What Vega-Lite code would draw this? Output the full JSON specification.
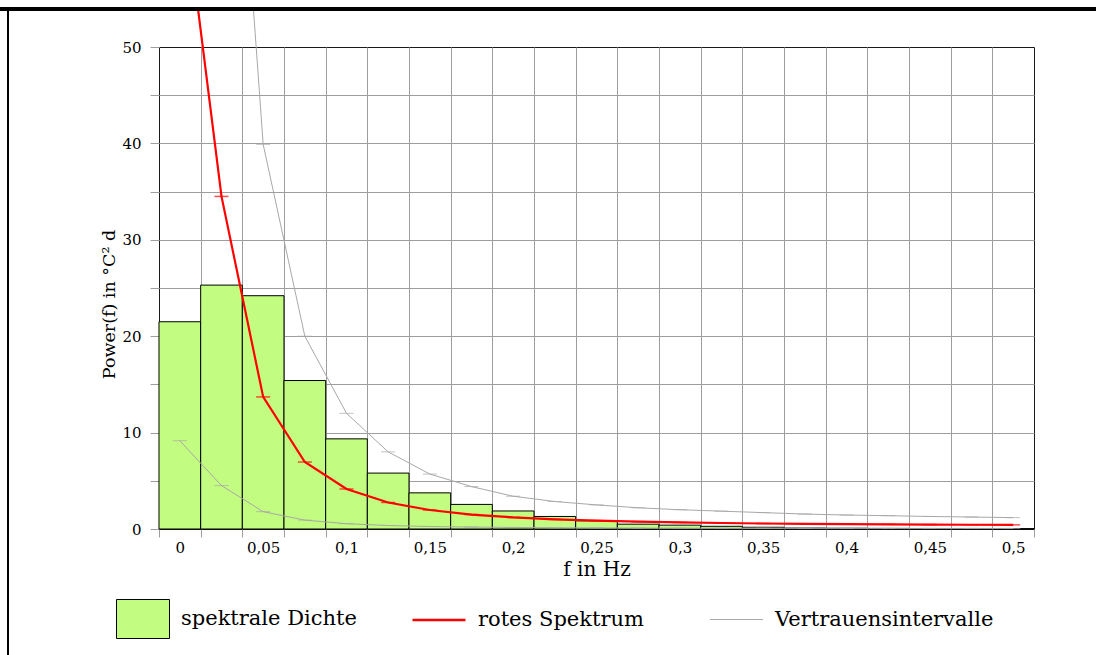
{
  "$schema": "https://vega.github.io/schema/vega-lite/v6.json",
  "width": 875,
  "height": 482,
  "autosize": {"type": "none"},
  "padding": {"left": 159, "top": 47, "right": 62, "bottom": 126},
  "background": "white",
  "config": {
    "font": "DejaVu Serif",
    "view": {"stroke": "#1a1a1a", "strokeWidth": 1},
    "axis": {
      "domain": false,
      "gridColor": "#9e9e9e",
      "gridWidth": 1,
      "tickColor": "#9e9e9e",
      "labelFont": "DejaVu Serif",
      "labelFontSize": 15,
      "labelColor": "#000000",
      "titleFont": "DejaVu Serif",
      "titleFontSize": 20,
      "titleFontWeight": "normal",
      "titleColor": "#000000"
    },
    "legend": {
      "title": null,
      "orient": "none",
      "direction": "horizontal",
      "padding": 0,
      "symbolSize": 2809,
      "labelOffset": 11,
      "labelFont": "DejaVu Serif",
      "labelFontSize": 21,
      "labelColor": "#000000",
      "labelLimit": 400,
      "symbolOpacity": 1
    }
  },
  "data": {
    "values": [
      {"f": 0.000, "dichte": 21.5, "rot": 69.0, "oben": 200.0, "unten": 9.16},
      {"f": 0.025, "dichte": 25.3, "rot": 34.5, "oben": 100.0, "unten": 4.5},
      {"f": 0.050, "dichte": 24.2, "rot": 13.7, "oben": 39.9, "unten": 1.8},
      {"f": 0.075, "dichte": 15.4, "rot": 6.95, "oben": 20.0, "unten": 0.92},
      {"f": 0.100, "dichte": 9.35, "rot": 4.15, "oben": 12.0, "unten": 0.55},
      {"f": 0.125, "dichte": 5.8, "rot": 2.75, "oben": 8.0, "unten": 0.36},
      {"f": 0.150, "dichte": 3.75, "rot": 1.97, "oben": 5.7, "unten": 0.26},
      {"f": 0.175, "dichte": 2.55, "rot": 1.5, "oben": 4.4, "unten": 0.2},
      {"f": 0.200, "dichte": 1.87, "rot": 1.2, "oben": 3.4, "unten": 0.16},
      {"f": 0.225, "dichte": 1.3, "rot": 1.0, "oben": 2.85, "unten": 0.13},
      {"f": 0.250, "dichte": 0.85, "rot": 0.87, "oben": 2.5, "unten": 0.115},
      {"f": 0.275, "dichte": 0.5, "rot": 0.76, "oben": 2.2, "unten": 0.1},
      {"f": 0.300, "dichte": 0.4, "rot": 0.68, "oben": 2.0, "unten": 0.09},
      {"f": 0.325, "dichte": 0.28, "rot": 0.62, "oben": 1.85, "unten": 0.085},
      {"f": 0.350, "dichte": 0.18, "rot": 0.57, "oben": 1.7, "unten": 0.08},
      {"f": 0.375, "dichte": 0.1, "rot": 0.53, "oben": 1.55, "unten": 0.075},
      {"f": 0.400, "dichte": 0.08, "rot": 0.5, "oben": 1.45, "unten": 0.07},
      {"f": 0.425, "dichte": 0.06, "rot": 0.48, "oben": 1.38, "unten": 0.068},
      {"f": 0.450, "dichte": 0.05, "rot": 0.46, "oben": 1.3, "unten": 0.065},
      {"f": 0.475, "dichte": 0.05, "rot": 0.44, "oben": 1.24, "unten": 0.062},
      {"f": 0.500, "dichte": 0.04, "rot": 0.43, "oben": 1.18, "unten": 0.06}
    ]
  },
  "encoding": {
    "x": {
      "field": "f",
      "type": "quantitative",
      "scale": {"domain": [-0.0125, 0.5125], "nice": false, "zero": false, "padding": 0},
      "axis": {
        "title": "f in Hz",
        "values": [-0.0125, 0, 0.0125, 0.025, 0.0375, 0.05, 0.0625, 0.075, 0.0875, 0.1, 0.1125, 0.125, 0.1375, 0.15, 0.1625, 0.175, 0.1875, 0.2, 0.2125, 0.225, 0.2375, 0.25, 0.2625, 0.275, 0.2875, 0.3, 0.3125, 0.325, 0.3375, 0.35, 0.3625, 0.375, 0.3875, 0.4, 0.4125, 0.425, 0.4375, 0.45, 0.4625, 0.475, 0.4875, 0.5, 0.5125],
        "labelExpr": "abs(round(datum.value * 80)) % 4 == 0 && datum.value >= 0 ? replace(format(datum.value, '~g'), '.', ',') : ''",
        "labelOverlap": false,
        "labelFlush": false,
        "labelPadding": 3,
        "tickSize": 8,
        "tickOpacity": {"condition": {"test": "abs(round(datum.value * 80)) % 2 == 1", "value": 1}, "value": 0},
        "grid": true,
        "gridOpacity": {"condition": {"test": "abs(round(datum.value * 80)) % 2 == 1 && datum.value > 0 && datum.value < 0.5", "value": 1}, "value": 0},
        "titlePadding": 4
      }
    }
  },
  "resolve": {"scale": {"color": "independent"}, "legend": {"color": "independent"}},
  "layer": [
    {
      "mark": {"type": "bar", "width": 41.667, "stroke": "#000000", "strokeWidth": 1, "opacity": 1},
      "encoding": {
        "y": {
          "field": "dichte",
          "type": "quantitative",
          "scale": {"domain": [0, 50], "nice": false, "padding": 0},
          "axis": {
            "title": "Power(f) in °C² d",
            "titleFontSize": 17.5,
            "titleY": 257,
            "values": [0, 5, 10, 15, 20, 25, 30, 35, 40, 45, 50],
            "labelExpr": "datum.value % 10 == 0 ? datum.label : ''",
            "tickSize": 9,
            "labelPadding": 9,
            "grid": true,
            "gridOpacity": {"condition": {"test": "datum.value == 0 || datum.value == 50", "value": 0}, "value": 1},
            "titlePadding": 3
          }
        },
        "color": {
          "datum": "spektrale Dichte",
          "scale": {"domain": ["spektrale Dichte"], "range": ["#c2fc80"]},
          "legend": {
            "legendX": -43,
            "legendY": 545,
            "symbolType": "M-1,-0.736L1,-0.736L1,0.736L-1,0.736Z",
            "symbolStrokeColor": "#000000",
            "symbolStrokeWidth": 1
          }
        }
      }
    },
    {
      "transform": [{"fold": ["oben", "unten"], "as": ["grenze", "wert"]}],
      "mark": {"type": "line", "strokeWidth": 1, "clip": false},
      "encoding": {
        "y": {"field": "wert", "type": "quantitative"},
        "detail": {"field": "grenze"},
        "color": {
          "datum": "Vertrauensintervalle",
          "scale": {"domain": ["Vertrauensintervalle"], "range": ["#a8a8a8"]},
          "legend": {
            "legendX": 550,
            "legendY": 545,
            "symbolType": "stroke",
            "symbolStrokeWidth": 1.2
          }
        }
      }
    },
    {
      "transform": [{"fold": ["oben", "unten"], "as": ["grenze", "wert"]}],
      "mark": {"type": "tick", "orient": "horizontal", "size": 14, "thickness": 1, "color": "#a8a8a8", "clip": false},
      "encoding": {"y": {"field": "wert", "type": "quantitative"}}
    },
    {
      "mark": {"type": "line", "strokeWidth": 2.2, "clip": false},
      "encoding": {
        "y": {"field": "rot", "type": "quantitative"},
        "color": {
          "datum": "rotes Spektrum",
          "scale": {"domain": ["rotes Spektrum"], "range": ["#ff0000"]},
          "legend": {
            "legendX": 252,
            "legendY": 545,
            "symbolType": "stroke",
            "symbolStrokeWidth": 2.5
          }
        }
      }
    },
    {
      "mark": {"type": "tick", "orient": "horizontal", "size": 14, "thickness": 1.5, "color": "#ff0000", "clip": false},
      "encoding": {"y": {"field": "rot", "type": "quantitative"}}
    },
    {
      "mark": {"type": "rect", "fill": "#ffffff", "opacity": 1, "clip": false},
      "encoding": {
        "x": {"datum": -0.2},
        "x2": {"datum": 0.7},
        "y": {"datum": 54.0},
        "y2": {"datum": 70}
      }
    },
    {
      "mark": {"type": "rule", "color": "#000000", "strokeWidth": 3, "clip": false},
      "encoding": {
        "x": {"datum": -0.11},
        "x2": {"datum": 0.6},
        "y": {"datum": 53.94}
      }
    },
    {
      "mark": {"type": "rule", "color": "#000000", "strokeWidth": 2, "clip": false},
      "encoding": {
        "x": {"datum": -0.1031},
        "y": {"datum": 53.94},
        "y2": {"datum": -14}
      }
    }
  ]
}
